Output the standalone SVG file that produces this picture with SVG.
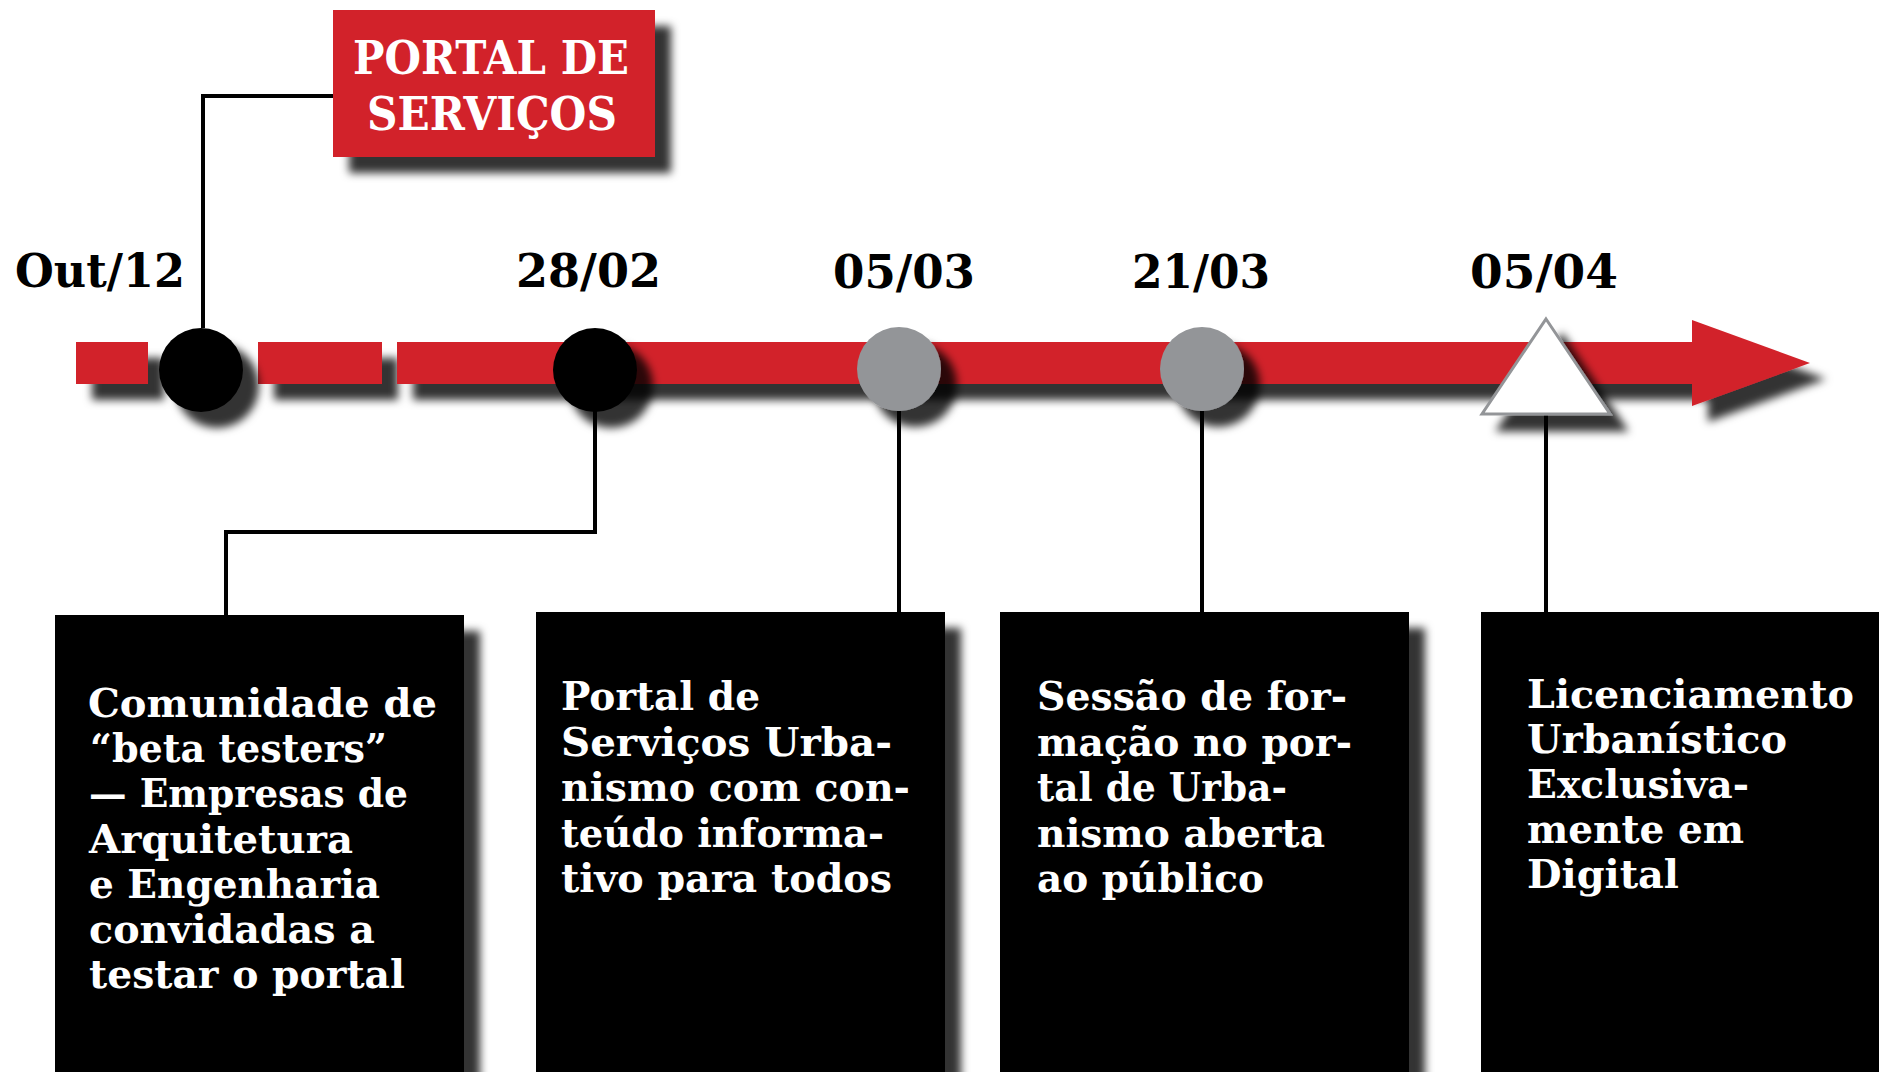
<svg xmlns="http://www.w3.org/2000/svg" width="1879" height="1072" viewBox="0 0 1879 1072">
<defs>
<filter id="sh" x="-20%" y="-60%" width="150%" height="230%">
<feDropShadow dx="16" dy="16" stdDeviation="4" flood-color="#000" flood-opacity="0.8"/>
</filter>
<style>
.date{font-family:"DejaVu Serif","Liberation Serif",serif;font-weight:bold;font-size:46px;fill:#000}
.bt{font-family:"DejaVu Serif","Liberation Serif",serif;font-weight:bold;font-size:39px;fill:#fff}
.pt{font-family:"DejaVu Serif","Liberation Serif",serif;font-weight:bold;font-size:47px;fill:#fff}
.box{fill:#000;filter:url(#sh)}
.red{fill:#D2232A}
.conn{fill:none;stroke:#000;stroke-width:4}
</style>
</defs>
<rect width="1879" height="1072" fill="#fff"/>

<g id="timeline" filter="url(#sh)">
<rect class="red" x="76" y="342" width="72" height="42"/>
<rect class="red" x="258" y="342" width="124" height="42"/>
<rect class="red" x="397" y="342" width="1296" height="42"/>
<polygon class="red" points="1692,320 1810,363 1692,406"/>
</g>

<g id="connectors">
<path class="conn" d="M333,96 H203 V328"/>
<path class="conn" d="M595,411 V532 H226 V615"/>
<path class="conn" d="M899,411 V612"/>
<path class="conn" d="M1202,411 V612"/>
<path class="conn" d="M1546,414 V612"/>
</g>

<g id="portal">
<rect x="333" y="10" width="322" height="147" class="red" filter="url(#sh)"/>
<text class="pt" x="353" y="74" textLength="276" lengthAdjust="spacingAndGlyphs">PORTAL DE</text>
<text class="pt" x="367" y="130" textLength="250" lengthAdjust="spacingAndGlyphs">SERVIÇOS</text>
</g>

<g id="m-out12">
<circle cx="201" cy="370" r="42" fill="#000" filter="url(#sh)"/>
<text class="date" x="15" y="287" textLength="170" lengthAdjust="spacingAndGlyphs">Out/12</text>
</g>
<g id="m-2802">
<circle cx="595" cy="370" r="42" fill="#000" filter="url(#sh)"/>
<text class="date" x="516" y="287" textLength="145" lengthAdjust="spacingAndGlyphs">28/02</text>
</g>
<g id="m-0503">
<circle cx="899" cy="369" r="42" fill="#939598" filter="url(#sh)"/>
<text class="date" x="833" y="288" textLength="142" lengthAdjust="spacingAndGlyphs">05/03</text>
</g>
<g id="m-2103">
<circle cx="1202" cy="369" r="42" fill="#939598" filter="url(#sh)"/>
<text class="date" x="1132" y="288" textLength="138" lengthAdjust="spacingAndGlyphs">21/03</text>
</g>
<g id="m-0504">
<polygon points="1546,319 1610,414 1482,414" fill="#fff" stroke="#939598" stroke-width="3" filter="url(#sh)"/>
<text class="date" x="1470" y="288" textLength="148" lengthAdjust="spacingAndGlyphs">05/04</text>
</g>

<g id="box1">
<rect class="box" x="55" y="615" width="409" height="480"/>
<text class="bt" x="88" y="717" textLength="349" lengthAdjust="spacingAndGlyphs">Comunidade de</text>
<text class="bt" x="90" y="762" textLength="297" lengthAdjust="spacingAndGlyphs">“beta testers”</text>
<text class="bt" x="89" y="807" textLength="319" lengthAdjust="spacingAndGlyphs">— Empresas de</text>
<text class="bt" x="89" y="853" textLength="264" lengthAdjust="spacingAndGlyphs">Arquitetura</text>
<text class="bt" x="89" y="898" textLength="291" lengthAdjust="spacingAndGlyphs">e Engenharia</text>
<text class="bt" x="89" y="943" textLength="286" lengthAdjust="spacingAndGlyphs">convidadas a</text>
<text class="bt" x="89" y="988" textLength="316" lengthAdjust="spacingAndGlyphs">testar o portal</text>
</g>

<g id="box2">
<rect class="box" x="536" y="612" width="409" height="480"/>
<text class="bt" x="561" y="710" textLength="199" lengthAdjust="spacingAndGlyphs">Portal de</text>
<text class="bt" x="561" y="756" textLength="331" lengthAdjust="spacingAndGlyphs">Serviços Urba-</text>
<text class="bt" x="561" y="801" textLength="349" lengthAdjust="spacingAndGlyphs">nismo com con-</text>
<text class="bt" x="561" y="847" textLength="323" lengthAdjust="spacingAndGlyphs">teúdo informa-</text>
<text class="bt" x="561" y="892" textLength="331" lengthAdjust="spacingAndGlyphs">tivo para todos</text>
</g>

<g id="box3">
<rect class="box" x="1000" y="612" width="409" height="480"/>
<text class="bt" x="1037" y="710" textLength="310" lengthAdjust="spacingAndGlyphs">Sessão de for-</text>
<text class="bt" x="1037" y="756" textLength="315" lengthAdjust="spacingAndGlyphs">mação no por-</text>
<text class="bt" x="1037" y="801" textLength="250" lengthAdjust="spacingAndGlyphs">tal de Urba-</text>
<text class="bt" x="1037" y="847" textLength="288" lengthAdjust="spacingAndGlyphs">nismo aberta</text>
<text class="bt" x="1037" y="892" textLength="227" lengthAdjust="spacingAndGlyphs">ao público</text>
</g>

<g id="box4">
<rect class="box" x="1481" y="612" width="420" height="480"/>
<text class="bt" x="1527" y="708" textLength="327" lengthAdjust="spacingAndGlyphs">Licenciamento</text>
<text class="bt" x="1527" y="753" textLength="260" lengthAdjust="spacingAndGlyphs">Urbanístico</text>
<text class="bt" x="1527" y="798" textLength="222" lengthAdjust="spacingAndGlyphs">Exclusiva-</text>
<text class="bt" x="1527" y="843" textLength="217" lengthAdjust="spacingAndGlyphs">mente em</text>
<text class="bt" x="1527" y="888" textLength="152" lengthAdjust="spacingAndGlyphs">Digital</text>
</g>
</svg>
